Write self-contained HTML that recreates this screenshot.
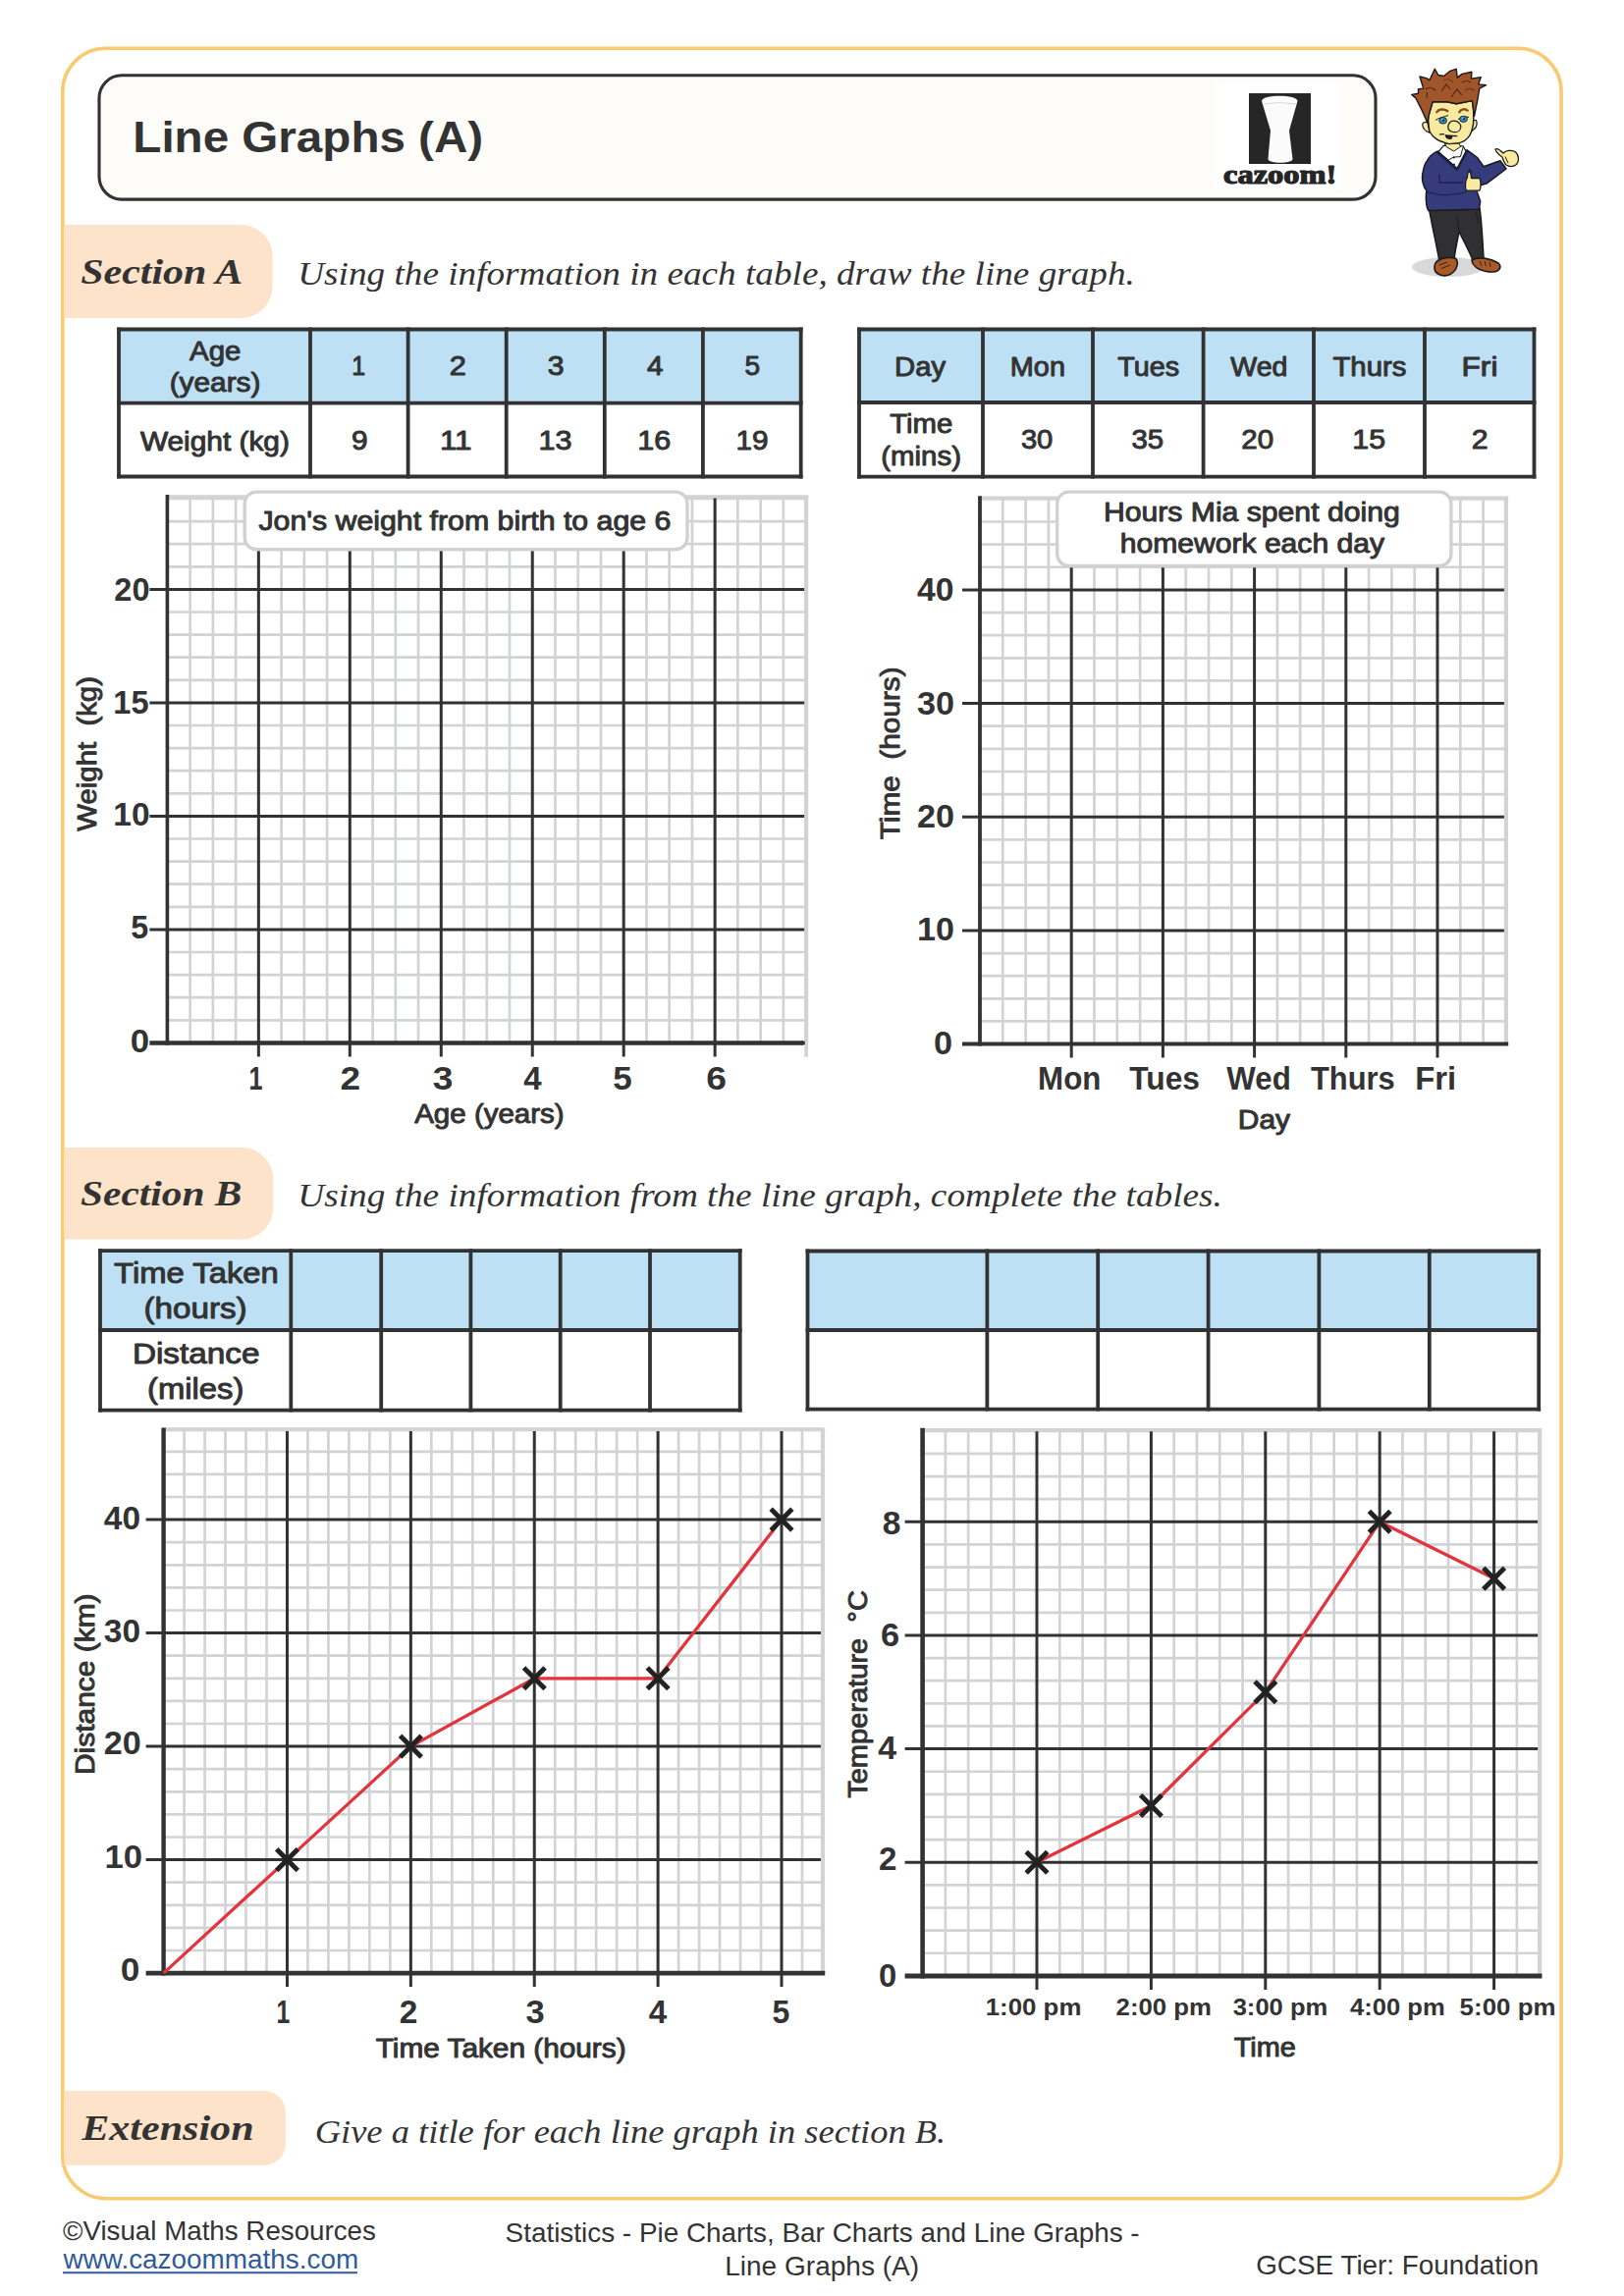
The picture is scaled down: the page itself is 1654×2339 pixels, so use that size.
<!DOCTYPE html>
<html><head><meta charset="utf-8"><title>Line Graphs (A)</title>
<style>html,body{margin:0;padding:0;background:#fff;width:1654px;height:2339px;overflow:hidden}</style>
</head><body>
<svg width="1654" height="2339" viewBox="0 0 1654 2339" style="position:absolute;left:0;top:0">
<rect x="0" y="0" width="1654" height="2339" fill="#ffffff"/>
<rect x="63.8" y="49.3" width="1526.3" height="2190.4" rx="44" ry="44" fill="none" stroke="#f8cb72" stroke-width="3.6"/>
<rect x="101" y="76.8" width="1300" height="126.3" rx="23" ry="23" fill="#fdfcf8" stroke="#323232" stroke-width="3.1"/>
<rect x="1239" y="84" width="128" height="109" fill="#ffffff"/>
<rect x="1272" y="95" width="63" height="72" fill="#262626"/>
<path d="M1285 103 C1285 96 1321.5 96 1321.5 103 L1313 133 L1316.5 162 C1316 167 1292 167 1291.5 162 L1294 133 Z" fill="#fbfbfb"/>
<path d="M1287 106 Q1303 103 1320 106" stroke="#d8d8d8" stroke-width="1" fill="none"/>
<path d="M65.6 229 L245.5 229 A32 32 0 0 1 277.5 261 L277.5 292 A32 32 0 0 1 245.5 324 L65.6 324 Z" fill="#fde3c9"/>
<path d="M65.6 1169 L246.2 1169 A32 32 0 0 1 278.2 1201 L278.2 1230.5 A32 32 0 0 1 246.2 1262.5 L65.6 1262.5 Z" fill="#fde3c9"/>
<path d="M65.6 2130.1 L269.3 2130.1 A21.5 21.5 0 0 1 290.8 2151.6 L290.8 2184.2 A21.5 21.5 0 0 1 269.3 2205.7 L65.6 2205.7 Z" fill="#fde3c9"/>
<rect x="121" y="335.5" width="694.7" height="75.1" fill="#bde0f5"/>
<rect x="121" y="410.6" width="694.7" height="74.9" fill="#ffffff"/>
<line x1="121" y1="333.6" x2="121" y2="487.4" stroke="#323232" stroke-width="3.8" stroke-linecap="butt"/>
<line x1="316" y1="333.6" x2="316" y2="487.4" stroke="#323232" stroke-width="3.8" stroke-linecap="butt"/>
<line x1="415.6" y1="333.6" x2="415.6" y2="487.4" stroke="#323232" stroke-width="3.8" stroke-linecap="butt"/>
<line x1="515.7" y1="333.6" x2="515.7" y2="487.4" stroke="#323232" stroke-width="3.8" stroke-linecap="butt"/>
<line x1="615.8" y1="333.6" x2="615.8" y2="487.4" stroke="#323232" stroke-width="3.8" stroke-linecap="butt"/>
<line x1="715.9" y1="333.6" x2="715.9" y2="487.4" stroke="#323232" stroke-width="3.8" stroke-linecap="butt"/>
<line x1="815.7" y1="333.6" x2="815.7" y2="487.4" stroke="#323232" stroke-width="3.8" stroke-linecap="butt"/>
<line x1="119.1" y1="335.5" x2="817.6" y2="335.5" stroke="#323232" stroke-width="3.8" stroke-linecap="butt"/>
<line x1="119.1" y1="410.6" x2="817.6" y2="410.6" stroke="#323232" stroke-width="3.8" stroke-linecap="butt"/>
<line x1="119.1" y1="485.5" x2="817.6" y2="485.5" stroke="#323232" stroke-width="3.8" stroke-linecap="butt"/>
<rect x="875" y="335.5" width="687.5" height="74.5" fill="#bde0f5"/>
<rect x="875" y="410" width="687.5" height="75.7" fill="#ffffff"/>
<line x1="875" y1="333.6" x2="875" y2="487.6" stroke="#323232" stroke-width="3.8" stroke-linecap="butt"/>
<line x1="1001" y1="333.6" x2="1001" y2="487.6" stroke="#323232" stroke-width="3.8" stroke-linecap="butt"/>
<line x1="1113" y1="333.6" x2="1113" y2="487.6" stroke="#323232" stroke-width="3.8" stroke-linecap="butt"/>
<line x1="1225.6" y1="333.6" x2="1225.6" y2="487.6" stroke="#323232" stroke-width="3.8" stroke-linecap="butt"/>
<line x1="1338" y1="333.6" x2="1338" y2="487.6" stroke="#323232" stroke-width="3.8" stroke-linecap="butt"/>
<line x1="1451" y1="333.6" x2="1451" y2="487.6" stroke="#323232" stroke-width="3.8" stroke-linecap="butt"/>
<line x1="1562.5" y1="333.6" x2="1562.5" y2="487.6" stroke="#323232" stroke-width="3.8" stroke-linecap="butt"/>
<line x1="873.1" y1="335.5" x2="1564.4" y2="335.5" stroke="#323232" stroke-width="3.8" stroke-linecap="butt"/>
<line x1="873.1" y1="410" x2="1564.4" y2="410" stroke="#323232" stroke-width="3.8" stroke-linecap="butt"/>
<line x1="873.1" y1="485.7" x2="1564.4" y2="485.7" stroke="#323232" stroke-width="3.8" stroke-linecap="butt"/>
<rect x="102" y="1274.2" width="651.7" height="80.8" fill="#bde0f5"/>
<rect x="102" y="1355" width="651.7" height="81.7" fill="#ffffff"/>
<line x1="102" y1="1272.3" x2="102" y2="1438.6" stroke="#323232" stroke-width="3.8" stroke-linecap="butt"/>
<line x1="296.3" y1="1272.3" x2="296.3" y2="1438.6" stroke="#323232" stroke-width="3.8" stroke-linecap="butt"/>
<line x1="388.2" y1="1272.3" x2="388.2" y2="1438.6" stroke="#323232" stroke-width="3.8" stroke-linecap="butt"/>
<line x1="479.4" y1="1272.3" x2="479.4" y2="1438.6" stroke="#323232" stroke-width="3.8" stroke-linecap="butt"/>
<line x1="570.7" y1="1272.3" x2="570.7" y2="1438.6" stroke="#323232" stroke-width="3.8" stroke-linecap="butt"/>
<line x1="662" y1="1272.3" x2="662" y2="1438.6" stroke="#323232" stroke-width="3.8" stroke-linecap="butt"/>
<line x1="753.7" y1="1272.3" x2="753.7" y2="1438.6" stroke="#323232" stroke-width="3.8" stroke-linecap="butt"/>
<line x1="100.1" y1="1274.2" x2="755.6" y2="1274.2" stroke="#323232" stroke-width="3.8" stroke-linecap="butt"/>
<line x1="100.1" y1="1355" x2="755.6" y2="1355" stroke="#323232" stroke-width="3.8" stroke-linecap="butt"/>
<line x1="100.1" y1="1436.7" x2="755.6" y2="1436.7" stroke="#323232" stroke-width="3.8" stroke-linecap="butt"/>
<rect x="822.5" y="1274.5" width="744.7" height="80.5" fill="#bde0f5"/>
<rect x="822.5" y="1355" width="744.7" height="80.7" fill="#ffffff"/>
<line x1="822.5" y1="1272.6" x2="822.5" y2="1437.6" stroke="#323232" stroke-width="3.8" stroke-linecap="butt"/>
<line x1="1005.4" y1="1272.6" x2="1005.4" y2="1437.6" stroke="#323232" stroke-width="3.8" stroke-linecap="butt"/>
<line x1="1118.2" y1="1272.6" x2="1118.2" y2="1437.6" stroke="#323232" stroke-width="3.8" stroke-linecap="butt"/>
<line x1="1230.6" y1="1272.6" x2="1230.6" y2="1437.6" stroke="#323232" stroke-width="3.8" stroke-linecap="butt"/>
<line x1="1343.4" y1="1272.6" x2="1343.4" y2="1437.6" stroke="#323232" stroke-width="3.8" stroke-linecap="butt"/>
<line x1="1455.8" y1="1272.6" x2="1455.8" y2="1437.6" stroke="#323232" stroke-width="3.8" stroke-linecap="butt"/>
<line x1="1567.2" y1="1272.6" x2="1567.2" y2="1437.6" stroke="#323232" stroke-width="3.8" stroke-linecap="butt"/>
<line x1="820.6" y1="1274.5" x2="1569.1" y2="1274.5" stroke="#323232" stroke-width="3.8" stroke-linecap="butt"/>
<line x1="820.6" y1="1355" x2="1569.1" y2="1355" stroke="#323232" stroke-width="3.8" stroke-linecap="butt"/>
<line x1="820.6" y1="1435.7" x2="1569.1" y2="1435.7" stroke="#323232" stroke-width="3.8" stroke-linecap="butt"/>
<line x1="193.64" y1="506" x2="193.64" y2="1062.4" stroke="#d2d3d5" stroke-width="2.7" stroke-linecap="butt"/>
<line x1="216.88" y1="506" x2="216.88" y2="1062.4" stroke="#d2d3d5" stroke-width="2.7" stroke-linecap="butt"/>
<line x1="240.12" y1="506" x2="240.12" y2="1062.4" stroke="#d2d3d5" stroke-width="2.7" stroke-linecap="butt"/>
<line x1="286.6" y1="506" x2="286.6" y2="1062.4" stroke="#d2d3d5" stroke-width="2.7" stroke-linecap="butt"/>
<line x1="309.84" y1="506" x2="309.84" y2="1062.4" stroke="#d2d3d5" stroke-width="2.7" stroke-linecap="butt"/>
<line x1="333.08" y1="506" x2="333.08" y2="1062.4" stroke="#d2d3d5" stroke-width="2.7" stroke-linecap="butt"/>
<line x1="379.56" y1="506" x2="379.56" y2="1062.4" stroke="#d2d3d5" stroke-width="2.7" stroke-linecap="butt"/>
<line x1="402.8" y1="506" x2="402.8" y2="1062.4" stroke="#d2d3d5" stroke-width="2.7" stroke-linecap="butt"/>
<line x1="426.04" y1="506" x2="426.04" y2="1062.4" stroke="#d2d3d5" stroke-width="2.7" stroke-linecap="butt"/>
<line x1="472.52" y1="506" x2="472.52" y2="1062.4" stroke="#d2d3d5" stroke-width="2.7" stroke-linecap="butt"/>
<line x1="495.76" y1="506" x2="495.76" y2="1062.4" stroke="#d2d3d5" stroke-width="2.7" stroke-linecap="butt"/>
<line x1="519" y1="506" x2="519" y2="1062.4" stroke="#d2d3d5" stroke-width="2.7" stroke-linecap="butt"/>
<line x1="565.48" y1="506" x2="565.48" y2="1062.4" stroke="#d2d3d5" stroke-width="2.7" stroke-linecap="butt"/>
<line x1="588.72" y1="506" x2="588.72" y2="1062.4" stroke="#d2d3d5" stroke-width="2.7" stroke-linecap="butt"/>
<line x1="611.96" y1="506" x2="611.96" y2="1062.4" stroke="#d2d3d5" stroke-width="2.7" stroke-linecap="butt"/>
<line x1="658.44" y1="506" x2="658.44" y2="1062.4" stroke="#d2d3d5" stroke-width="2.7" stroke-linecap="butt"/>
<line x1="681.68" y1="506" x2="681.68" y2="1062.4" stroke="#d2d3d5" stroke-width="2.7" stroke-linecap="butt"/>
<line x1="704.92" y1="506" x2="704.92" y2="1062.4" stroke="#d2d3d5" stroke-width="2.7" stroke-linecap="butt"/>
<line x1="751.4" y1="506" x2="751.4" y2="1062.4" stroke="#d2d3d5" stroke-width="2.7" stroke-linecap="butt"/>
<line x1="774.64" y1="506" x2="774.64" y2="1062.4" stroke="#d2d3d5" stroke-width="2.7" stroke-linecap="butt"/>
<line x1="797.88" y1="506" x2="797.88" y2="1062.4" stroke="#d2d3d5" stroke-width="2.7" stroke-linecap="butt"/>
<line x1="170.4" y1="1039.3" x2="821.12" y2="1039.3" stroke="#d2d3d5" stroke-width="2.7" stroke-linecap="butt"/>
<line x1="170.4" y1="1016.2" x2="821.12" y2="1016.2" stroke="#d2d3d5" stroke-width="2.7" stroke-linecap="butt"/>
<line x1="170.4" y1="993.1" x2="821.12" y2="993.1" stroke="#d2d3d5" stroke-width="2.7" stroke-linecap="butt"/>
<line x1="170.4" y1="970" x2="821.12" y2="970" stroke="#d2d3d5" stroke-width="2.7" stroke-linecap="butt"/>
<line x1="170.4" y1="923.8" x2="821.12" y2="923.8" stroke="#d2d3d5" stroke-width="2.7" stroke-linecap="butt"/>
<line x1="170.4" y1="900.7" x2="821.12" y2="900.7" stroke="#d2d3d5" stroke-width="2.7" stroke-linecap="butt"/>
<line x1="170.4" y1="877.6" x2="821.12" y2="877.6" stroke="#d2d3d5" stroke-width="2.7" stroke-linecap="butt"/>
<line x1="170.4" y1="854.5" x2="821.12" y2="854.5" stroke="#d2d3d5" stroke-width="2.7" stroke-linecap="butt"/>
<line x1="170.4" y1="808.3" x2="821.12" y2="808.3" stroke="#d2d3d5" stroke-width="2.7" stroke-linecap="butt"/>
<line x1="170.4" y1="785.2" x2="821.12" y2="785.2" stroke="#d2d3d5" stroke-width="2.7" stroke-linecap="butt"/>
<line x1="170.4" y1="762.1" x2="821.12" y2="762.1" stroke="#d2d3d5" stroke-width="2.7" stroke-linecap="butt"/>
<line x1="170.4" y1="739" x2="821.12" y2="739" stroke="#d2d3d5" stroke-width="2.7" stroke-linecap="butt"/>
<line x1="170.4" y1="692.8" x2="821.12" y2="692.8" stroke="#d2d3d5" stroke-width="2.7" stroke-linecap="butt"/>
<line x1="170.4" y1="669.7" x2="821.12" y2="669.7" stroke="#d2d3d5" stroke-width="2.7" stroke-linecap="butt"/>
<line x1="170.4" y1="646.6" x2="821.12" y2="646.6" stroke="#d2d3d5" stroke-width="2.7" stroke-linecap="butt"/>
<line x1="170.4" y1="623.5" x2="821.12" y2="623.5" stroke="#d2d3d5" stroke-width="2.7" stroke-linecap="butt"/>
<line x1="170.4" y1="577.3" x2="821.12" y2="577.3" stroke="#d2d3d5" stroke-width="2.7" stroke-linecap="butt"/>
<line x1="170.4" y1="554.2" x2="821.12" y2="554.2" stroke="#d2d3d5" stroke-width="2.7" stroke-linecap="butt"/>
<line x1="170.4" y1="531.1" x2="821.12" y2="531.1" stroke="#d2d3d5" stroke-width="2.7" stroke-linecap="butt"/>
<line x1="170.4" y1="508" x2="821.12" y2="508" stroke="#d2d3d5" stroke-width="2.7" stroke-linecap="butt"/>
<line x1="170.4" y1="506" x2="823.42" y2="506" stroke="#d2d3d5" stroke-width="3.6" stroke-linecap="butt"/>
<line x1="821.12" y1="506" x2="821.12" y2="1062.4" stroke="#d2d3d5" stroke-width="4.2" stroke-linecap="butt"/>
<line x1="152.4" y1="946.9" x2="819.12" y2="946.9" stroke="#323232" stroke-width="3" stroke-linecap="butt"/>
<line x1="152.4" y1="831.4" x2="819.12" y2="831.4" stroke="#323232" stroke-width="3" stroke-linecap="butt"/>
<line x1="152.4" y1="715.9" x2="819.12" y2="715.9" stroke="#323232" stroke-width="3" stroke-linecap="butt"/>
<line x1="152.4" y1="600.4" x2="819.12" y2="600.4" stroke="#323232" stroke-width="3" stroke-linecap="butt"/>
<line x1="263.36" y1="507.5" x2="263.36" y2="1076.4" stroke="#323232" stroke-width="3" stroke-linecap="butt"/>
<line x1="356.32" y1="507.5" x2="356.32" y2="1076.4" stroke="#323232" stroke-width="3" stroke-linecap="butt"/>
<line x1="449.28" y1="507.5" x2="449.28" y2="1076.4" stroke="#323232" stroke-width="3" stroke-linecap="butt"/>
<line x1="542.24" y1="507.5" x2="542.24" y2="1076.4" stroke="#323232" stroke-width="3" stroke-linecap="butt"/>
<line x1="635.2" y1="507.5" x2="635.2" y2="1076.4" stroke="#323232" stroke-width="3" stroke-linecap="butt"/>
<line x1="728.16" y1="507.5" x2="728.16" y2="1076.4" stroke="#323232" stroke-width="3" stroke-linecap="butt"/>
<line x1="821.12" y1="1062.4" x2="821.12" y2="1076.7" stroke="#d2d3d5" stroke-width="3.7" stroke-linecap="butt"/>
<line x1="170.4" y1="504" x2="170.4" y2="1064.65" stroke="#323232" stroke-width="3.6" stroke-linecap="butt"/>
<line x1="152.4" y1="1062.4" x2="817.75" y2="1062.4" stroke="#323232" stroke-width="4.5" stroke-linecap="butt"/>
<circle cx="817.75" cy="1062.4" r="2.25" fill="#323232"/>
<line x1="1021.3" y1="507.3" x2="1021.3" y2="1063.6" stroke="#d2d3d5" stroke-width="2.7" stroke-linecap="butt"/>
<line x1="1044.6" y1="507.3" x2="1044.6" y2="1063.6" stroke="#d2d3d5" stroke-width="2.7" stroke-linecap="butt"/>
<line x1="1067.9" y1="507.3" x2="1067.9" y2="1063.6" stroke="#d2d3d5" stroke-width="2.7" stroke-linecap="butt"/>
<line x1="1114.5" y1="507.3" x2="1114.5" y2="1063.6" stroke="#d2d3d5" stroke-width="2.7" stroke-linecap="butt"/>
<line x1="1137.8" y1="507.3" x2="1137.8" y2="1063.6" stroke="#d2d3d5" stroke-width="2.7" stroke-linecap="butt"/>
<line x1="1161.1" y1="507.3" x2="1161.1" y2="1063.6" stroke="#d2d3d5" stroke-width="2.7" stroke-linecap="butt"/>
<line x1="1207.7" y1="507.3" x2="1207.7" y2="1063.6" stroke="#d2d3d5" stroke-width="2.7" stroke-linecap="butt"/>
<line x1="1231" y1="507.3" x2="1231" y2="1063.6" stroke="#d2d3d5" stroke-width="2.7" stroke-linecap="butt"/>
<line x1="1254.3" y1="507.3" x2="1254.3" y2="1063.6" stroke="#d2d3d5" stroke-width="2.7" stroke-linecap="butt"/>
<line x1="1300.9" y1="507.3" x2="1300.9" y2="1063.6" stroke="#d2d3d5" stroke-width="2.7" stroke-linecap="butt"/>
<line x1="1324.2" y1="507.3" x2="1324.2" y2="1063.6" stroke="#d2d3d5" stroke-width="2.7" stroke-linecap="butt"/>
<line x1="1347.5" y1="507.3" x2="1347.5" y2="1063.6" stroke="#d2d3d5" stroke-width="2.7" stroke-linecap="butt"/>
<line x1="1394.1" y1="507.3" x2="1394.1" y2="1063.6" stroke="#d2d3d5" stroke-width="2.7" stroke-linecap="butt"/>
<line x1="1417.4" y1="507.3" x2="1417.4" y2="1063.6" stroke="#d2d3d5" stroke-width="2.7" stroke-linecap="butt"/>
<line x1="1440.7" y1="507.3" x2="1440.7" y2="1063.6" stroke="#d2d3d5" stroke-width="2.7" stroke-linecap="butt"/>
<line x1="1487.3" y1="507.3" x2="1487.3" y2="1063.6" stroke="#d2d3d5" stroke-width="2.7" stroke-linecap="butt"/>
<line x1="1510.6" y1="507.3" x2="1510.6" y2="1063.6" stroke="#d2d3d5" stroke-width="2.7" stroke-linecap="butt"/>
<line x1="998" y1="1040.46" x2="1533.9" y2="1040.46" stroke="#d2d3d5" stroke-width="2.7" stroke-linecap="butt"/>
<line x1="998" y1="1017.33" x2="1533.9" y2="1017.33" stroke="#d2d3d5" stroke-width="2.7" stroke-linecap="butt"/>
<line x1="998" y1="994.19" x2="1533.9" y2="994.19" stroke="#d2d3d5" stroke-width="2.7" stroke-linecap="butt"/>
<line x1="998" y1="971.06" x2="1533.9" y2="971.06" stroke="#d2d3d5" stroke-width="2.7" stroke-linecap="butt"/>
<line x1="998" y1="924.79" x2="1533.9" y2="924.79" stroke="#d2d3d5" stroke-width="2.7" stroke-linecap="butt"/>
<line x1="998" y1="901.65" x2="1533.9" y2="901.65" stroke="#d2d3d5" stroke-width="2.7" stroke-linecap="butt"/>
<line x1="998" y1="878.52" x2="1533.9" y2="878.52" stroke="#d2d3d5" stroke-width="2.7" stroke-linecap="butt"/>
<line x1="998" y1="855.38" x2="1533.9" y2="855.38" stroke="#d2d3d5" stroke-width="2.7" stroke-linecap="butt"/>
<line x1="998" y1="809.11" x2="1533.9" y2="809.11" stroke="#d2d3d5" stroke-width="2.7" stroke-linecap="butt"/>
<line x1="998" y1="785.98" x2="1533.9" y2="785.98" stroke="#d2d3d5" stroke-width="2.7" stroke-linecap="butt"/>
<line x1="998" y1="762.84" x2="1533.9" y2="762.84" stroke="#d2d3d5" stroke-width="2.7" stroke-linecap="butt"/>
<line x1="998" y1="739.71" x2="1533.9" y2="739.71" stroke="#d2d3d5" stroke-width="2.7" stroke-linecap="butt"/>
<line x1="998" y1="693.44" x2="1533.9" y2="693.44" stroke="#d2d3d5" stroke-width="2.7" stroke-linecap="butt"/>
<line x1="998" y1="670.3" x2="1533.9" y2="670.3" stroke="#d2d3d5" stroke-width="2.7" stroke-linecap="butt"/>
<line x1="998" y1="647.17" x2="1533.9" y2="647.17" stroke="#d2d3d5" stroke-width="2.7" stroke-linecap="butt"/>
<line x1="998" y1="624.03" x2="1533.9" y2="624.03" stroke="#d2d3d5" stroke-width="2.7" stroke-linecap="butt"/>
<line x1="998" y1="577.76" x2="1533.9" y2="577.76" stroke="#d2d3d5" stroke-width="2.7" stroke-linecap="butt"/>
<line x1="998" y1="554.63" x2="1533.9" y2="554.63" stroke="#d2d3d5" stroke-width="2.7" stroke-linecap="butt"/>
<line x1="998" y1="531.49" x2="1533.9" y2="531.49" stroke="#d2d3d5" stroke-width="2.7" stroke-linecap="butt"/>
<line x1="998" y1="508.36" x2="1533.9" y2="508.36" stroke="#d2d3d5" stroke-width="2.7" stroke-linecap="butt"/>
<line x1="998" y1="507.3" x2="1536.2" y2="507.3" stroke="#d2d3d5" stroke-width="3.6" stroke-linecap="butt"/>
<line x1="1533.9" y1="507.3" x2="1533.9" y2="1063.6" stroke="#d2d3d5" stroke-width="4.2" stroke-linecap="butt"/>
<line x1="980" y1="947.92" x2="1531.9" y2="947.92" stroke="#323232" stroke-width="3" stroke-linecap="butt"/>
<line x1="980" y1="832.25" x2="1531.9" y2="832.25" stroke="#323232" stroke-width="3" stroke-linecap="butt"/>
<line x1="980" y1="716.57" x2="1531.9" y2="716.57" stroke="#323232" stroke-width="3" stroke-linecap="butt"/>
<line x1="980" y1="600.9" x2="1531.9" y2="600.9" stroke="#323232" stroke-width="3" stroke-linecap="butt"/>
<line x1="1091.2" y1="508.8" x2="1091.2" y2="1077.6" stroke="#323232" stroke-width="3" stroke-linecap="butt"/>
<line x1="1184.4" y1="508.8" x2="1184.4" y2="1077.6" stroke="#323232" stroke-width="3" stroke-linecap="butt"/>
<line x1="1277.6" y1="508.8" x2="1277.6" y2="1077.6" stroke="#323232" stroke-width="3" stroke-linecap="butt"/>
<line x1="1370.8" y1="508.8" x2="1370.8" y2="1077.6" stroke="#323232" stroke-width="3" stroke-linecap="butt"/>
<line x1="1464" y1="508.8" x2="1464" y2="1077.6" stroke="#323232" stroke-width="3" stroke-linecap="butt"/>
<line x1="998" y1="505.3" x2="998" y2="1065.6" stroke="#323232" stroke-width="3.8" stroke-linecap="butt"/>
<line x1="980" y1="1063.6" x2="1536.2" y2="1063.6" stroke="#323232" stroke-width="4" stroke-linecap="butt"/>
<line x1="187.58" y1="1456.4" x2="187.58" y2="2010.1" stroke="#d2d3d5" stroke-width="2.7" stroke-linecap="butt"/>
<line x1="208.56" y1="1456.4" x2="208.56" y2="2010.1" stroke="#d2d3d5" stroke-width="2.7" stroke-linecap="butt"/>
<line x1="229.54" y1="1456.4" x2="229.54" y2="2010.1" stroke="#d2d3d5" stroke-width="2.7" stroke-linecap="butt"/>
<line x1="250.52" y1="1456.4" x2="250.52" y2="2010.1" stroke="#d2d3d5" stroke-width="2.7" stroke-linecap="butt"/>
<line x1="271.5" y1="1456.4" x2="271.5" y2="2010.1" stroke="#d2d3d5" stroke-width="2.7" stroke-linecap="butt"/>
<line x1="313.46" y1="1456.4" x2="313.46" y2="2010.1" stroke="#d2d3d5" stroke-width="2.7" stroke-linecap="butt"/>
<line x1="334.44" y1="1456.4" x2="334.44" y2="2010.1" stroke="#d2d3d5" stroke-width="2.7" stroke-linecap="butt"/>
<line x1="355.42" y1="1456.4" x2="355.42" y2="2010.1" stroke="#d2d3d5" stroke-width="2.7" stroke-linecap="butt"/>
<line x1="376.4" y1="1456.4" x2="376.4" y2="2010.1" stroke="#d2d3d5" stroke-width="2.7" stroke-linecap="butt"/>
<line x1="397.38" y1="1456.4" x2="397.38" y2="2010.1" stroke="#d2d3d5" stroke-width="2.7" stroke-linecap="butt"/>
<line x1="439.34" y1="1456.4" x2="439.34" y2="2010.1" stroke="#d2d3d5" stroke-width="2.7" stroke-linecap="butt"/>
<line x1="460.32" y1="1456.4" x2="460.32" y2="2010.1" stroke="#d2d3d5" stroke-width="2.7" stroke-linecap="butt"/>
<line x1="481.3" y1="1456.4" x2="481.3" y2="2010.1" stroke="#d2d3d5" stroke-width="2.7" stroke-linecap="butt"/>
<line x1="502.28" y1="1456.4" x2="502.28" y2="2010.1" stroke="#d2d3d5" stroke-width="2.7" stroke-linecap="butt"/>
<line x1="523.26" y1="1456.4" x2="523.26" y2="2010.1" stroke="#d2d3d5" stroke-width="2.7" stroke-linecap="butt"/>
<line x1="565.22" y1="1456.4" x2="565.22" y2="2010.1" stroke="#d2d3d5" stroke-width="2.7" stroke-linecap="butt"/>
<line x1="586.2" y1="1456.4" x2="586.2" y2="2010.1" stroke="#d2d3d5" stroke-width="2.7" stroke-linecap="butt"/>
<line x1="607.18" y1="1456.4" x2="607.18" y2="2010.1" stroke="#d2d3d5" stroke-width="2.7" stroke-linecap="butt"/>
<line x1="628.16" y1="1456.4" x2="628.16" y2="2010.1" stroke="#d2d3d5" stroke-width="2.7" stroke-linecap="butt"/>
<line x1="649.14" y1="1456.4" x2="649.14" y2="2010.1" stroke="#d2d3d5" stroke-width="2.7" stroke-linecap="butt"/>
<line x1="691.1" y1="1456.4" x2="691.1" y2="2010.1" stroke="#d2d3d5" stroke-width="2.7" stroke-linecap="butt"/>
<line x1="712.08" y1="1456.4" x2="712.08" y2="2010.1" stroke="#d2d3d5" stroke-width="2.7" stroke-linecap="butt"/>
<line x1="733.06" y1="1456.4" x2="733.06" y2="2010.1" stroke="#d2d3d5" stroke-width="2.7" stroke-linecap="butt"/>
<line x1="754.04" y1="1456.4" x2="754.04" y2="2010.1" stroke="#d2d3d5" stroke-width="2.7" stroke-linecap="butt"/>
<line x1="775.02" y1="1456.4" x2="775.02" y2="2010.1" stroke="#d2d3d5" stroke-width="2.7" stroke-linecap="butt"/>
<line x1="816.98" y1="1456.4" x2="816.98" y2="2010.1" stroke="#d2d3d5" stroke-width="2.7" stroke-linecap="butt"/>
<line x1="166.6" y1="1987" x2="837.96" y2="1987" stroke="#d2d3d5" stroke-width="2.7" stroke-linecap="butt"/>
<line x1="166.6" y1="1963.9" x2="837.96" y2="1963.9" stroke="#d2d3d5" stroke-width="2.7" stroke-linecap="butt"/>
<line x1="166.6" y1="1940.8" x2="837.96" y2="1940.8" stroke="#d2d3d5" stroke-width="2.7" stroke-linecap="butt"/>
<line x1="166.6" y1="1917.7" x2="837.96" y2="1917.7" stroke="#d2d3d5" stroke-width="2.7" stroke-linecap="butt"/>
<line x1="166.6" y1="1871.5" x2="837.96" y2="1871.5" stroke="#d2d3d5" stroke-width="2.7" stroke-linecap="butt"/>
<line x1="166.6" y1="1848.4" x2="837.96" y2="1848.4" stroke="#d2d3d5" stroke-width="2.7" stroke-linecap="butt"/>
<line x1="166.6" y1="1825.3" x2="837.96" y2="1825.3" stroke="#d2d3d5" stroke-width="2.7" stroke-linecap="butt"/>
<line x1="166.6" y1="1802.2" x2="837.96" y2="1802.2" stroke="#d2d3d5" stroke-width="2.7" stroke-linecap="butt"/>
<line x1="166.6" y1="1756" x2="837.96" y2="1756" stroke="#d2d3d5" stroke-width="2.7" stroke-linecap="butt"/>
<line x1="166.6" y1="1732.9" x2="837.96" y2="1732.9" stroke="#d2d3d5" stroke-width="2.7" stroke-linecap="butt"/>
<line x1="166.6" y1="1709.8" x2="837.96" y2="1709.8" stroke="#d2d3d5" stroke-width="2.7" stroke-linecap="butt"/>
<line x1="166.6" y1="1686.7" x2="837.96" y2="1686.7" stroke="#d2d3d5" stroke-width="2.7" stroke-linecap="butt"/>
<line x1="166.6" y1="1640.5" x2="837.96" y2="1640.5" stroke="#d2d3d5" stroke-width="2.7" stroke-linecap="butt"/>
<line x1="166.6" y1="1617.4" x2="837.96" y2="1617.4" stroke="#d2d3d5" stroke-width="2.7" stroke-linecap="butt"/>
<line x1="166.6" y1="1594.3" x2="837.96" y2="1594.3" stroke="#d2d3d5" stroke-width="2.7" stroke-linecap="butt"/>
<line x1="166.6" y1="1571.2" x2="837.96" y2="1571.2" stroke="#d2d3d5" stroke-width="2.7" stroke-linecap="butt"/>
<line x1="166.6" y1="1525" x2="837.96" y2="1525" stroke="#d2d3d5" stroke-width="2.7" stroke-linecap="butt"/>
<line x1="166.6" y1="1501.9" x2="837.96" y2="1501.9" stroke="#d2d3d5" stroke-width="2.7" stroke-linecap="butt"/>
<line x1="166.6" y1="1478.8" x2="837.96" y2="1478.8" stroke="#d2d3d5" stroke-width="2.7" stroke-linecap="butt"/>
<line x1="166.6" y1="1455.7" x2="837.96" y2="1455.7" stroke="#d2d3d5" stroke-width="2.7" stroke-linecap="butt"/>
<line x1="166.6" y1="1456.4" x2="840.26" y2="1456.4" stroke="#d2d3d5" stroke-width="3.6" stroke-linecap="butt"/>
<line x1="837.96" y1="1456.4" x2="837.96" y2="2010.1" stroke="#d2d3d5" stroke-width="4.2" stroke-linecap="butt"/>
<line x1="148.6" y1="1894.6" x2="835.96" y2="1894.6" stroke="#323232" stroke-width="3" stroke-linecap="butt"/>
<line x1="148.6" y1="1779.1" x2="835.96" y2="1779.1" stroke="#323232" stroke-width="3" stroke-linecap="butt"/>
<line x1="148.6" y1="1663.6" x2="835.96" y2="1663.6" stroke="#323232" stroke-width="3" stroke-linecap="butt"/>
<line x1="148.6" y1="1548.1" x2="835.96" y2="1548.1" stroke="#323232" stroke-width="3" stroke-linecap="butt"/>
<line x1="292.48" y1="1457.9" x2="292.48" y2="2024.1" stroke="#323232" stroke-width="3" stroke-linecap="butt"/>
<line x1="418.36" y1="1457.9" x2="418.36" y2="2024.1" stroke="#323232" stroke-width="3" stroke-linecap="butt"/>
<line x1="544.24" y1="1457.9" x2="544.24" y2="2024.1" stroke="#323232" stroke-width="3" stroke-linecap="butt"/>
<line x1="670.12" y1="1457.9" x2="670.12" y2="2024.1" stroke="#323232" stroke-width="3" stroke-linecap="butt"/>
<line x1="796" y1="1457.9" x2="796" y2="2024.1" stroke="#323232" stroke-width="3" stroke-linecap="butt"/>
<line x1="166.6" y1="1454.4" x2="166.6" y2="2012.4" stroke="#323232" stroke-width="4.4" stroke-linecap="butt"/>
<line x1="148.6" y1="2010.1" x2="840.26" y2="2010.1" stroke="#323232" stroke-width="4.6" stroke-linecap="butt"/>
<line x1="962.88" y1="1456.8" x2="962.88" y2="2012.9" stroke="#d2d3d5" stroke-width="2.7" stroke-linecap="butt"/>
<line x1="986.16" y1="1456.8" x2="986.16" y2="2012.9" stroke="#d2d3d5" stroke-width="2.7" stroke-linecap="butt"/>
<line x1="1009.44" y1="1456.8" x2="1009.44" y2="2012.9" stroke="#d2d3d5" stroke-width="2.7" stroke-linecap="butt"/>
<line x1="1032.72" y1="1456.8" x2="1032.72" y2="2012.9" stroke="#d2d3d5" stroke-width="2.7" stroke-linecap="butt"/>
<line x1="1079.28" y1="1456.8" x2="1079.28" y2="2012.9" stroke="#d2d3d5" stroke-width="2.7" stroke-linecap="butt"/>
<line x1="1102.56" y1="1456.8" x2="1102.56" y2="2012.9" stroke="#d2d3d5" stroke-width="2.7" stroke-linecap="butt"/>
<line x1="1125.84" y1="1456.8" x2="1125.84" y2="2012.9" stroke="#d2d3d5" stroke-width="2.7" stroke-linecap="butt"/>
<line x1="1149.12" y1="1456.8" x2="1149.12" y2="2012.9" stroke="#d2d3d5" stroke-width="2.7" stroke-linecap="butt"/>
<line x1="1195.68" y1="1456.8" x2="1195.68" y2="2012.9" stroke="#d2d3d5" stroke-width="2.7" stroke-linecap="butt"/>
<line x1="1218.96" y1="1456.8" x2="1218.96" y2="2012.9" stroke="#d2d3d5" stroke-width="2.7" stroke-linecap="butt"/>
<line x1="1242.24" y1="1456.8" x2="1242.24" y2="2012.9" stroke="#d2d3d5" stroke-width="2.7" stroke-linecap="butt"/>
<line x1="1265.52" y1="1456.8" x2="1265.52" y2="2012.9" stroke="#d2d3d5" stroke-width="2.7" stroke-linecap="butt"/>
<line x1="1312.08" y1="1456.8" x2="1312.08" y2="2012.9" stroke="#d2d3d5" stroke-width="2.7" stroke-linecap="butt"/>
<line x1="1335.36" y1="1456.8" x2="1335.36" y2="2012.9" stroke="#d2d3d5" stroke-width="2.7" stroke-linecap="butt"/>
<line x1="1358.64" y1="1456.8" x2="1358.64" y2="2012.9" stroke="#d2d3d5" stroke-width="2.7" stroke-linecap="butt"/>
<line x1="1381.92" y1="1456.8" x2="1381.92" y2="2012.9" stroke="#d2d3d5" stroke-width="2.7" stroke-linecap="butt"/>
<line x1="1428.48" y1="1456.8" x2="1428.48" y2="2012.9" stroke="#d2d3d5" stroke-width="2.7" stroke-linecap="butt"/>
<line x1="1451.76" y1="1456.8" x2="1451.76" y2="2012.9" stroke="#d2d3d5" stroke-width="2.7" stroke-linecap="butt"/>
<line x1="1475.04" y1="1456.8" x2="1475.04" y2="2012.9" stroke="#d2d3d5" stroke-width="2.7" stroke-linecap="butt"/>
<line x1="1498.32" y1="1456.8" x2="1498.32" y2="2012.9" stroke="#d2d3d5" stroke-width="2.7" stroke-linecap="butt"/>
<line x1="1544.88" y1="1456.8" x2="1544.88" y2="2012.9" stroke="#d2d3d5" stroke-width="2.7" stroke-linecap="butt"/>
<line x1="939.6" y1="1989.77" x2="1568.16" y2="1989.77" stroke="#d2d3d5" stroke-width="2.7" stroke-linecap="butt"/>
<line x1="939.6" y1="1966.64" x2="1568.16" y2="1966.64" stroke="#d2d3d5" stroke-width="2.7" stroke-linecap="butt"/>
<line x1="939.6" y1="1943.51" x2="1568.16" y2="1943.51" stroke="#d2d3d5" stroke-width="2.7" stroke-linecap="butt"/>
<line x1="939.6" y1="1920.38" x2="1568.16" y2="1920.38" stroke="#d2d3d5" stroke-width="2.7" stroke-linecap="butt"/>
<line x1="939.6" y1="1874.12" x2="1568.16" y2="1874.12" stroke="#d2d3d5" stroke-width="2.7" stroke-linecap="butt"/>
<line x1="939.6" y1="1850.99" x2="1568.16" y2="1850.99" stroke="#d2d3d5" stroke-width="2.7" stroke-linecap="butt"/>
<line x1="939.6" y1="1827.86" x2="1568.16" y2="1827.86" stroke="#d2d3d5" stroke-width="2.7" stroke-linecap="butt"/>
<line x1="939.6" y1="1804.73" x2="1568.16" y2="1804.73" stroke="#d2d3d5" stroke-width="2.7" stroke-linecap="butt"/>
<line x1="939.6" y1="1758.47" x2="1568.16" y2="1758.47" stroke="#d2d3d5" stroke-width="2.7" stroke-linecap="butt"/>
<line x1="939.6" y1="1735.34" x2="1568.16" y2="1735.34" stroke="#d2d3d5" stroke-width="2.7" stroke-linecap="butt"/>
<line x1="939.6" y1="1712.21" x2="1568.16" y2="1712.21" stroke="#d2d3d5" stroke-width="2.7" stroke-linecap="butt"/>
<line x1="939.6" y1="1689.08" x2="1568.16" y2="1689.08" stroke="#d2d3d5" stroke-width="2.7" stroke-linecap="butt"/>
<line x1="939.6" y1="1642.82" x2="1568.16" y2="1642.82" stroke="#d2d3d5" stroke-width="2.7" stroke-linecap="butt"/>
<line x1="939.6" y1="1619.69" x2="1568.16" y2="1619.69" stroke="#d2d3d5" stroke-width="2.7" stroke-linecap="butt"/>
<line x1="939.6" y1="1596.56" x2="1568.16" y2="1596.56" stroke="#d2d3d5" stroke-width="2.7" stroke-linecap="butt"/>
<line x1="939.6" y1="1573.43" x2="1568.16" y2="1573.43" stroke="#d2d3d5" stroke-width="2.7" stroke-linecap="butt"/>
<line x1="939.6" y1="1527.17" x2="1568.16" y2="1527.17" stroke="#d2d3d5" stroke-width="2.7" stroke-linecap="butt"/>
<line x1="939.6" y1="1504.04" x2="1568.16" y2="1504.04" stroke="#d2d3d5" stroke-width="2.7" stroke-linecap="butt"/>
<line x1="939.6" y1="1480.91" x2="1568.16" y2="1480.91" stroke="#d2d3d5" stroke-width="2.7" stroke-linecap="butt"/>
<line x1="939.6" y1="1457.78" x2="1568.16" y2="1457.78" stroke="#d2d3d5" stroke-width="2.7" stroke-linecap="butt"/>
<line x1="939.6" y1="1456.8" x2="1570.46" y2="1456.8" stroke="#d2d3d5" stroke-width="3.6" stroke-linecap="butt"/>
<line x1="1568.16" y1="1456.8" x2="1568.16" y2="2012.9" stroke="#d2d3d5" stroke-width="4.2" stroke-linecap="butt"/>
<line x1="921.6" y1="1897.25" x2="1566.16" y2="1897.25" stroke="#323232" stroke-width="3" stroke-linecap="butt"/>
<line x1="921.6" y1="1781.6" x2="1566.16" y2="1781.6" stroke="#323232" stroke-width="3" stroke-linecap="butt"/>
<line x1="921.6" y1="1665.95" x2="1566.16" y2="1665.95" stroke="#323232" stroke-width="3" stroke-linecap="butt"/>
<line x1="921.6" y1="1550.3" x2="1566.16" y2="1550.3" stroke="#323232" stroke-width="3" stroke-linecap="butt"/>
<line x1="1056" y1="1458.3" x2="1056" y2="2026.9" stroke="#323232" stroke-width="3" stroke-linecap="butt"/>
<line x1="1172.4" y1="1458.3" x2="1172.4" y2="2026.9" stroke="#323232" stroke-width="3" stroke-linecap="butt"/>
<line x1="1288.8" y1="1458.3" x2="1288.8" y2="2026.9" stroke="#323232" stroke-width="3" stroke-linecap="butt"/>
<line x1="1405.2" y1="1458.3" x2="1405.2" y2="2026.9" stroke="#323232" stroke-width="3" stroke-linecap="butt"/>
<line x1="1521.6" y1="1458.3" x2="1521.6" y2="2026.9" stroke="#323232" stroke-width="3" stroke-linecap="butt"/>
<line x1="939.6" y1="1454.8" x2="939.6" y2="2015.4" stroke="#323232" stroke-width="4.6" stroke-linecap="butt"/>
<line x1="921.6" y1="2012.9" x2="1570.46" y2="2012.9" stroke="#323232" stroke-width="5" stroke-linecap="butt"/>
<rect x="249.2" y="501.1" width="450.8" height="58.6" rx="12" ry="12" fill="#ffffff" stroke="#d0d1d3" stroke-width="3.4"/>
<rect x="1076.7" y="501.1" width="401.2" height="75.4" rx="12" ry="12" fill="#ffffff" stroke="#d0d1d3" stroke-width="3.4"/>
<polyline points="166.6,2010.1 292.5,1894.6 418.4,1779.1 544.3,1709.8 670.1,1709.8 796,1548.1" fill="none" stroke="#e2343c" stroke-width="3.3" stroke-linejoin="round"/>
<line x1="281.7" y1="1883.8" x2="303.3" y2="1905.4" stroke="#222" stroke-width="5" stroke-linecap="butt"/>
<line x1="281.7" y1="1905.4" x2="303.3" y2="1883.8" stroke="#222" stroke-width="5" stroke-linecap="butt"/>
<line x1="407.6" y1="1768.3" x2="429.2" y2="1789.9" stroke="#222" stroke-width="5" stroke-linecap="butt"/>
<line x1="407.6" y1="1789.9" x2="429.2" y2="1768.3" stroke="#222" stroke-width="5" stroke-linecap="butt"/>
<line x1="533.5" y1="1699" x2="555.1" y2="1720.6" stroke="#222" stroke-width="5" stroke-linecap="butt"/>
<line x1="533.5" y1="1720.6" x2="555.1" y2="1699" stroke="#222" stroke-width="5" stroke-linecap="butt"/>
<line x1="659.3" y1="1699" x2="680.9" y2="1720.6" stroke="#222" stroke-width="5" stroke-linecap="butt"/>
<line x1="659.3" y1="1720.6" x2="680.9" y2="1699" stroke="#222" stroke-width="5" stroke-linecap="butt"/>
<line x1="785.2" y1="1537.3" x2="806.8" y2="1558.9" stroke="#222" stroke-width="5" stroke-linecap="butt"/>
<line x1="785.2" y1="1558.9" x2="806.8" y2="1537.3" stroke="#222" stroke-width="5" stroke-linecap="butt"/>
<polyline points="1056,1897.3 1172.4,1839.5 1288.8,1723.8 1405.2,1550.3 1521.6,1608.1" fill="none" stroke="#e2343c" stroke-width="3.3" stroke-linejoin="round"/>
<line x1="1045.2" y1="1886.5" x2="1066.8" y2="1908.1" stroke="#222" stroke-width="5" stroke-linecap="butt"/>
<line x1="1045.2" y1="1908.1" x2="1066.8" y2="1886.5" stroke="#222" stroke-width="5" stroke-linecap="butt"/>
<line x1="1161.6" y1="1828.7" x2="1183.2" y2="1850.3" stroke="#222" stroke-width="5" stroke-linecap="butt"/>
<line x1="1161.6" y1="1850.3" x2="1183.2" y2="1828.7" stroke="#222" stroke-width="5" stroke-linecap="butt"/>
<line x1="1278" y1="1713" x2="1299.6" y2="1734.6" stroke="#222" stroke-width="5" stroke-linecap="butt"/>
<line x1="1278" y1="1734.6" x2="1299.6" y2="1713" stroke="#222" stroke-width="5" stroke-linecap="butt"/>
<line x1="1394.4" y1="1539.5" x2="1416" y2="1561.1" stroke="#222" stroke-width="5" stroke-linecap="butt"/>
<line x1="1394.4" y1="1561.1" x2="1416" y2="1539.5" stroke="#222" stroke-width="5" stroke-linecap="butt"/>
<line x1="1510.8" y1="1597.3" x2="1532.4" y2="1618.9" stroke="#222" stroke-width="5" stroke-linecap="butt"/>
<line x1="1510.8" y1="1618.9" x2="1532.4" y2="1597.3" stroke="#222" stroke-width="5" stroke-linecap="butt"/>
<line x1="64" y1="2315.2" x2="364" y2="2315.2" stroke="#2f5b9a" stroke-width="2" stroke-linecap="butt"/>
<text x="135.33" y="155.4" xml:space="preserve" font-family="Liberation Sans" font-size="45" font-weight="bold" font-style="normal" fill="#333333" textLength="356.85" lengthAdjust="spacingAndGlyphs">Line Graphs (A)</text>
<text x="1246" y="186.5" xml:space="preserve" font-family="Liberation Serif" font-size="27" font-weight="bold" font-style="normal" fill="#262626" stroke="#262626" stroke-width="1.2" stroke-linejoin="round" textLength="115.35" lengthAdjust="spacingAndGlyphs">cazoom!</text>
<text x="82.21" y="288.8" xml:space="preserve" font-family="Liberation Serif" font-size="35.3" font-weight="bold" font-style="italic" fill="#333333" textLength="165.07" lengthAdjust="spacingAndGlyphs">Section A</text>
<text x="82.13" y="1228" xml:space="preserve" font-family="Liberation Serif" font-size="35.3" font-weight="bold" font-style="italic" fill="#333333" textLength="164.22" lengthAdjust="spacingAndGlyphs">Section B</text>
<text x="83.3" y="2180.2" xml:space="preserve" font-family="Liberation Serif" font-size="35.3" font-weight="bold" font-style="italic" fill="#333333" textLength="175.23" lengthAdjust="spacingAndGlyphs">Extension</text>
<text x="303.26" y="289.5" xml:space="preserve" font-family="Liberation Serif" font-size="34.5" font-weight="normal" font-style="italic" fill="#333333" textLength="852.62" lengthAdjust="spacingAndGlyphs">Using the information in each table, draw the line graph.</text>
<text x="303.26" y="1228.7" xml:space="preserve" font-family="Liberation Serif" font-size="34.5" font-weight="normal" font-style="italic" fill="#333333" textLength="941.63" lengthAdjust="spacingAndGlyphs">Using the information from the line graph, complete the tables.</text>
<text x="320.68" y="2182.6" xml:space="preserve" font-family="Liberation Serif" font-size="34.5" font-weight="normal" font-style="italic" fill="#333333" textLength="642.58" lengthAdjust="spacingAndGlyphs">Give a title for each line graph in section B.</text>
<text x="193.1" y="366.5" xml:space="preserve" font-family="Liberation Sans" font-size="27" font-weight="normal" font-style="normal" fill="#333333" stroke="#333333" stroke-width="0.95" stroke-linejoin="round" textLength="52.34" lengthAdjust="spacingAndGlyphs">Age</text>
<text x="172.7" y="399.3" xml:space="preserve" font-family="Liberation Sans" font-size="27" font-weight="normal" font-style="normal" fill="#333333" stroke="#333333" stroke-width="0.95" stroke-linejoin="round" textLength="92.72" lengthAdjust="spacingAndGlyphs">(years)</text>
<text x="142.9" y="458.6" xml:space="preserve" font-family="Liberation Sans" font-size="27" font-weight="normal" font-style="normal" fill="#333333" stroke="#333333" stroke-width="0.95" stroke-linejoin="round" textLength="152.01" lengthAdjust="spacingAndGlyphs">Weight (kg)</text>
<text x="358.15" y="382.4" xml:space="preserve" font-family="Liberation Sans" font-size="27" font-weight="normal" font-style="normal" fill="#333333" stroke="#333333" stroke-width="0.95" stroke-linejoin="round" textLength="13.9" lengthAdjust="spacingAndGlyphs">1</text>
<text x="457.66" y="382.4" xml:space="preserve" font-family="Liberation Sans" font-size="27" font-weight="normal" font-style="normal" fill="#333333" stroke="#333333" stroke-width="0.95" stroke-linejoin="round" textLength="17.11" lengthAdjust="spacingAndGlyphs">2</text>
<text x="557.78" y="382.4" xml:space="preserve" font-family="Liberation Sans" font-size="27" font-weight="normal" font-style="normal" fill="#333333" stroke="#333333" stroke-width="0.95" stroke-linejoin="round" textLength="16.77" lengthAdjust="spacingAndGlyphs">3</text>
<text x="658.9" y="382.4" xml:space="preserve" font-family="Liberation Sans" font-size="27" font-weight="normal" font-style="normal" fill="#333333" stroke="#333333" stroke-width="0.95" stroke-linejoin="round" textLength="16.53" lengthAdjust="spacingAndGlyphs">4</text>
<text x="758.46" y="382.4" xml:space="preserve" font-family="Liberation Sans" font-size="27" font-weight="normal" font-style="normal" fill="#333333" stroke="#333333" stroke-width="0.95" stroke-linejoin="round" textLength="15.68" lengthAdjust="spacingAndGlyphs">5</text>
<text x="358" y="458.4" xml:space="preserve" font-family="Liberation Sans" font-size="27" font-weight="normal" font-style="normal" fill="#333333" stroke="#333333" stroke-width="0.95" stroke-linejoin="round" textLength="16.53" lengthAdjust="spacingAndGlyphs">9</text>
<text x="447.97" y="458.4" xml:space="preserve" font-family="Liberation Sans" font-size="27" font-weight="normal" font-style="normal" fill="#333333" stroke="#333333" stroke-width="0.95" stroke-linejoin="round" textLength="32.63" lengthAdjust="spacingAndGlyphs">11</text>
<text x="548.64" y="458.4" xml:space="preserve" font-family="Liberation Sans" font-size="27" font-weight="normal" font-style="normal" fill="#333333" stroke="#333333" stroke-width="0.95" stroke-linejoin="round" textLength="33.94" lengthAdjust="spacingAndGlyphs">13</text>
<text x="649.24" y="458.4" xml:space="preserve" font-family="Liberation Sans" font-size="27" font-weight="normal" font-style="normal" fill="#333333" stroke="#333333" stroke-width="0.95" stroke-linejoin="round" textLength="33.94" lengthAdjust="spacingAndGlyphs">16</text>
<text x="749.4" y="458.4" xml:space="preserve" font-family="Liberation Sans" font-size="27" font-weight="normal" font-style="normal" fill="#333333" stroke="#333333" stroke-width="0.95" stroke-linejoin="round" textLength="33.05" lengthAdjust="spacingAndGlyphs">19</text>
<text x="911.13" y="382.5" xml:space="preserve" font-family="Liberation Sans" font-size="27" font-weight="normal" font-style="normal" fill="#333333" stroke="#333333" stroke-width="0.95" stroke-linejoin="round" textLength="51.98" lengthAdjust="spacingAndGlyphs">Day</text>
<text x="906.2" y="441.3" xml:space="preserve" font-family="Liberation Sans" font-size="27" font-weight="normal" font-style="normal" fill="#333333" stroke="#333333" stroke-width="0.95" stroke-linejoin="round" textLength="63.98" lengthAdjust="spacingAndGlyphs">Time</text>
<text x="897.31" y="473.7" xml:space="preserve" font-family="Liberation Sans" font-size="27" font-weight="normal" font-style="normal" fill="#333333" stroke="#333333" stroke-width="0.95" stroke-linejoin="round" textLength="81.68" lengthAdjust="spacingAndGlyphs">(mins)</text>
<text x="1028.87" y="382.7" xml:space="preserve" font-family="Liberation Sans" font-size="27" font-weight="normal" font-style="normal" fill="#333333" stroke="#333333" stroke-width="0.95" stroke-linejoin="round" textLength="56.07" lengthAdjust="spacingAndGlyphs">Mon</text>
<text x="1138.3" y="382.7" xml:space="preserve" font-family="Liberation Sans" font-size="27" font-weight="normal" font-style="normal" fill="#333333" stroke="#333333" stroke-width="0.95" stroke-linejoin="round" textLength="62.83" lengthAdjust="spacingAndGlyphs">Tues</text>
<text x="1253.3" y="382.7" xml:space="preserve" font-family="Liberation Sans" font-size="27" font-weight="normal" font-style="normal" fill="#333333" stroke="#333333" stroke-width="0.95" stroke-linejoin="round" textLength="58.19" lengthAdjust="spacingAndGlyphs">Wed</text>
<text x="1357.4" y="382.7" xml:space="preserve" font-family="Liberation Sans" font-size="27" font-weight="normal" font-style="normal" fill="#333333" stroke="#333333" stroke-width="0.95" stroke-linejoin="round" textLength="75.03" lengthAdjust="spacingAndGlyphs">Thurs</text>
<text x="1488.56" y="382.7" xml:space="preserve" font-family="Liberation Sans" font-size="27" font-weight="normal" font-style="normal" fill="#333333" stroke="#333333" stroke-width="0.95" stroke-linejoin="round" textLength="36.88" lengthAdjust="spacingAndGlyphs">Fri</text>
<text x="1039.92" y="457.2" xml:space="preserve" font-family="Liberation Sans" font-size="27" font-weight="normal" font-style="normal" fill="#333333" stroke="#333333" stroke-width="0.95" stroke-linejoin="round" textLength="32.43" lengthAdjust="spacingAndGlyphs">30</text>
<text x="1152.51" y="457.2" xml:space="preserve" font-family="Liberation Sans" font-size="27" font-weight="normal" font-style="normal" fill="#333333" stroke="#333333" stroke-width="0.95" stroke-linejoin="round" textLength="32.64" lengthAdjust="spacingAndGlyphs">35</text>
<text x="1264.31" y="457.2" xml:space="preserve" font-family="Liberation Sans" font-size="27" font-weight="normal" font-style="normal" fill="#333333" stroke="#333333" stroke-width="0.95" stroke-linejoin="round" textLength="32.84" lengthAdjust="spacingAndGlyphs">20</text>
<text x="1377.35" y="457.2" xml:space="preserve" font-family="Liberation Sans" font-size="27" font-weight="normal" font-style="normal" fill="#333333" stroke="#333333" stroke-width="0.95" stroke-linejoin="round" textLength="33.8" lengthAdjust="spacingAndGlyphs">15</text>
<text x="1498.68" y="457.2" xml:space="preserve" font-family="Liberation Sans" font-size="27" font-weight="normal" font-style="normal" fill="#333333" stroke="#333333" stroke-width="0.95" stroke-linejoin="round" textLength="16.88" lengthAdjust="spacingAndGlyphs">2</text>
<text x="116.1" y="1307.2" xml:space="preserve" font-family="Liberation Sans" font-size="29" font-weight="normal" font-style="normal" fill="#333333" stroke="#333333" stroke-width="0.95" stroke-linejoin="round" textLength="167.67" lengthAdjust="spacingAndGlyphs">Time Taken</text>
<text x="146.56" y="1343.4" xml:space="preserve" font-family="Liberation Sans" font-size="29" font-weight="normal" font-style="normal" fill="#333333" stroke="#333333" stroke-width="0.95" stroke-linejoin="round" textLength="105.13" lengthAdjust="spacingAndGlyphs">(hours)</text>
<text x="134.9" y="1388.5" xml:space="preserve" font-family="Liberation Sans" font-size="29" font-weight="normal" font-style="normal" fill="#333333" stroke="#333333" stroke-width="0.95" stroke-linejoin="round" textLength="129.55" lengthAdjust="spacingAndGlyphs">Distance</text>
<text x="150.07" y="1425.3" xml:space="preserve" font-family="Liberation Sans" font-size="29" font-weight="normal" font-style="normal" fill="#333333" stroke="#333333" stroke-width="0.95" stroke-linejoin="round" textLength="98.26" lengthAdjust="spacingAndGlyphs">(miles)</text>
<text x="263.4" y="539.5" xml:space="preserve" font-family="Liberation Sans" font-size="27" font-weight="normal" font-style="normal" fill="#333333" stroke="#333333" stroke-width="0.95" stroke-linejoin="round" textLength="420" lengthAdjust="spacingAndGlyphs">Jon's weight from birth to age 6</text>
<text x="1123.97" y="530.9" xml:space="preserve" font-family="Liberation Sans" font-size="27" font-weight="normal" font-style="normal" fill="#333333" stroke="#333333" stroke-width="0.95" stroke-linejoin="round" textLength="301.73" lengthAdjust="spacingAndGlyphs">Hours Mia spent doing</text>
<text x="1140.79" y="563.4" xml:space="preserve" font-family="Liberation Sans" font-size="27" font-weight="normal" font-style="normal" fill="#333333" stroke="#333333" stroke-width="0.95" stroke-linejoin="round" textLength="269.21" lengthAdjust="spacingAndGlyphs">homework each day</text>
<text x="132.84" y="1072.2" xml:space="preserve" font-family="Liberation Sans" font-size="33" font-weight="bold" font-style="normal" fill="#333333" textLength="19.39" lengthAdjust="spacingAndGlyphs">0</text>
<text x="133.22" y="955.5" xml:space="preserve" font-family="Liberation Sans" font-size="33" font-weight="bold" font-style="normal" fill="#333333" textLength="17.93" lengthAdjust="spacingAndGlyphs">5</text>
<text x="115.27" y="841.2" xml:space="preserve" font-family="Liberation Sans" font-size="33" font-weight="bold" font-style="normal" fill="#333333" textLength="37.28" lengthAdjust="spacingAndGlyphs">10</text>
<text x="115.33" y="727" xml:space="preserve" font-family="Liberation Sans" font-size="33" font-weight="bold" font-style="normal" fill="#333333" textLength="36.18" lengthAdjust="spacingAndGlyphs">15</text>
<text x="116.31" y="611.5" xml:space="preserve" font-family="Liberation Sans" font-size="33" font-weight="bold" font-style="normal" fill="#333333" textLength="36.18" lengthAdjust="spacingAndGlyphs">20</text>
<text x="253.38" y="1109.5" xml:space="preserve" font-family="Liberation Sans" font-size="33" font-weight="bold" font-style="normal" fill="#333333" textLength="14" lengthAdjust="spacingAndGlyphs">1</text>
<text x="346.57" y="1109.5" xml:space="preserve" font-family="Liberation Sans" font-size="33" font-weight="bold" font-style="normal" fill="#333333" textLength="20.65" lengthAdjust="spacingAndGlyphs">2</text>
<text x="440.77" y="1109.5" xml:space="preserve" font-family="Liberation Sans" font-size="33" font-weight="bold" font-style="normal" fill="#333333" textLength="20.65" lengthAdjust="spacingAndGlyphs">3</text>
<text x="533.2" y="1109.5" xml:space="preserve" font-family="Liberation Sans" font-size="33" font-weight="bold" font-style="normal" fill="#333333" textLength="18.36" lengthAdjust="spacingAndGlyphs">4</text>
<text x="624.24" y="1109.5" xml:space="preserve" font-family="Liberation Sans" font-size="33" font-weight="bold" font-style="normal" fill="#333333" textLength="19.44" lengthAdjust="spacingAndGlyphs">5</text>
<text x="719.17" y="1109.5" xml:space="preserve" font-family="Liberation Sans" font-size="33" font-weight="bold" font-style="normal" fill="#333333" textLength="20.77" lengthAdjust="spacingAndGlyphs">6</text>
<text x="422.2" y="1143.7" xml:space="preserve" font-family="Liberation Sans" font-size="27" font-weight="normal" font-style="normal" fill="#333333" stroke="#333333" stroke-width="0.95" stroke-linejoin="round" textLength="152.51" lengthAdjust="spacingAndGlyphs">Age (years)</text>
<text transform="translate(98.2,846.7) rotate(-90)" x="-0" y="0" xml:space="preserve" font-family="Liberation Sans" font-size="27" font-weight="normal" font-style="normal" fill="#333333" stroke="#333333" stroke-width="0.95" stroke-linejoin="round" textLength="157.64" lengthAdjust="spacingAndGlyphs">Weight  (kg)</text>
<text x="950.96" y="1073.8" xml:space="preserve" font-family="Liberation Sans" font-size="33" font-weight="bold" font-style="normal" fill="#333333" textLength="19.05" lengthAdjust="spacingAndGlyphs">0</text>
<text x="934.13" y="957.9" xml:space="preserve" font-family="Liberation Sans" font-size="33" font-weight="bold" font-style="normal" fill="#333333" textLength="37.94" lengthAdjust="spacingAndGlyphs">10</text>
<text x="933.96" y="842.6" xml:space="preserve" font-family="Liberation Sans" font-size="33" font-weight="bold" font-style="normal" fill="#333333" textLength="38.12" lengthAdjust="spacingAndGlyphs">20</text>
<text x="933.96" y="727.9" xml:space="preserve" font-family="Liberation Sans" font-size="33" font-weight="bold" font-style="normal" fill="#333333" textLength="38.12" lengthAdjust="spacingAndGlyphs">30</text>
<text x="934" y="612.3" xml:space="preserve" font-family="Liberation Sans" font-size="33" font-weight="bold" font-style="normal" fill="#333333" textLength="37.51" lengthAdjust="spacingAndGlyphs">40</text>
<text x="1057.11" y="1109.8" xml:space="preserve" font-family="Liberation Sans" font-size="33" font-weight="bold" font-style="normal" fill="#333333" textLength="64.21" lengthAdjust="spacingAndGlyphs">Mon</text>
<text x="1150.3" y="1109.8" xml:space="preserve" font-family="Liberation Sans" font-size="33" font-weight="bold" font-style="normal" fill="#333333" textLength="71.72" lengthAdjust="spacingAndGlyphs">Tues</text>
<text x="1249.3" y="1109.8" xml:space="preserve" font-family="Liberation Sans" font-size="33" font-weight="bold" font-style="normal" fill="#333333" textLength="65.45" lengthAdjust="spacingAndGlyphs">Wed</text>
<text x="1335" y="1109.8" xml:space="preserve" font-family="Liberation Sans" font-size="33" font-weight="bold" font-style="normal" fill="#333333" textLength="85.76" lengthAdjust="spacingAndGlyphs">Thurs</text>
<text x="1441.21" y="1109.8" xml:space="preserve" font-family="Liberation Sans" font-size="33" font-weight="bold" font-style="normal" fill="#333333" textLength="41.95" lengthAdjust="spacingAndGlyphs">Fri</text>
<text x="1260.78" y="1149.8" xml:space="preserve" font-family="Liberation Sans" font-size="27" font-weight="normal" font-style="normal" fill="#333333" stroke="#333333" stroke-width="0.95" stroke-linejoin="round" textLength="53.23" lengthAdjust="spacingAndGlyphs">Day</text>
<text transform="translate(915.7,855.3) rotate(-90)" x="-0" y="0" xml:space="preserve" font-family="Liberation Sans" font-size="27" font-weight="normal" font-style="normal" fill="#333333" stroke="#333333" stroke-width="0.95" stroke-linejoin="round" textLength="175.99" lengthAdjust="spacingAndGlyphs">Time  (hours)</text>
<text x="122.73" y="2017.9" xml:space="preserve" font-family="Liberation Sans" font-size="33" font-weight="bold" font-style="normal" fill="#333333" textLength="19.62" lengthAdjust="spacingAndGlyphs">0</text>
<text x="106.4" y="1902.6" xml:space="preserve" font-family="Liberation Sans" font-size="33" font-weight="bold" font-style="normal" fill="#333333" textLength="38.61" lengthAdjust="spacingAndGlyphs">10</text>
<text x="105.76" y="1787.3" xml:space="preserve" font-family="Liberation Sans" font-size="33" font-weight="bold" font-style="normal" fill="#333333" textLength="38.01" lengthAdjust="spacingAndGlyphs">20</text>
<text x="105.79" y="1673.3" xml:space="preserve" font-family="Liberation Sans" font-size="33" font-weight="bold" font-style="normal" fill="#333333" textLength="37.26" lengthAdjust="spacingAndGlyphs">30</text>
<text x="105.8" y="1557.6" xml:space="preserve" font-family="Liberation Sans" font-size="33" font-weight="bold" font-style="normal" fill="#333333" textLength="37.24" lengthAdjust="spacingAndGlyphs">40</text>
<text x="281.6" y="2061.1" xml:space="preserve" font-family="Liberation Sans" font-size="33" font-weight="bold" font-style="normal" fill="#333333" textLength="13.77" lengthAdjust="spacingAndGlyphs">1</text>
<text x="406.69" y="2061" xml:space="preserve" font-family="Liberation Sans" font-size="33" font-weight="bold" font-style="normal" fill="#333333" textLength="18.59" lengthAdjust="spacingAndGlyphs">2</text>
<text x="535.56" y="2061.1" xml:space="preserve" font-family="Liberation Sans" font-size="33" font-weight="bold" font-style="normal" fill="#333333" textLength="19.16" lengthAdjust="spacingAndGlyphs">3</text>
<text x="660.8" y="2061.4" xml:space="preserve" font-family="Liberation Sans" font-size="33" font-weight="bold" font-style="normal" fill="#333333" textLength="18.46" lengthAdjust="spacingAndGlyphs">4</text>
<text x="786.53" y="2061.1" xml:space="preserve" font-family="Liberation Sans" font-size="33" font-weight="bold" font-style="normal" fill="#333333" textLength="17.82" lengthAdjust="spacingAndGlyphs">5</text>
<text x="382.7" y="2095.5" xml:space="preserve" font-family="Liberation Sans" font-size="27" font-weight="normal" font-style="normal" fill="#333333" stroke="#333333" stroke-width="0.95" stroke-linejoin="round" textLength="254.91" lengthAdjust="spacingAndGlyphs">Time Taken (hours)</text>
<text transform="translate(95.6,1805.8) rotate(-90)" x="-2.22" y="0" xml:space="preserve" font-family="Liberation Sans" font-size="27" font-weight="normal" font-style="normal" fill="#333333" stroke="#333333" stroke-width="0.95" stroke-linejoin="round" textLength="184.61" lengthAdjust="spacingAndGlyphs">Distance (km)</text>
<text x="895.11" y="2023.5" xml:space="preserve" font-family="Liberation Sans" font-size="33" font-weight="bold" font-style="normal" fill="#333333" textLength="18.24" lengthAdjust="spacingAndGlyphs">0</text>
<text x="894.99" y="1905" xml:space="preserve" font-family="Liberation Sans" font-size="33" font-weight="bold" font-style="normal" fill="#333333" textLength="18.47" lengthAdjust="spacingAndGlyphs">2</text>
<text x="894.3" y="1791.7" xml:space="preserve" font-family="Liberation Sans" font-size="33" font-weight="bold" font-style="normal" fill="#333333" textLength="18.87" lengthAdjust="spacingAndGlyphs">4</text>
<text x="897.06" y="1677.4" xml:space="preserve" font-family="Liberation Sans" font-size="33" font-weight="bold" font-style="normal" fill="#333333" textLength="19.16" lengthAdjust="spacingAndGlyphs">6</text>
<text x="898.88" y="1562.5" xml:space="preserve" font-family="Liberation Sans" font-size="33" font-weight="bold" font-style="normal" fill="#333333" textLength="18.7" lengthAdjust="spacingAndGlyphs">8</text>
<text x="1003.69" y="2052.6" xml:space="preserve" font-family="Liberation Sans" font-size="24.5" font-weight="bold" font-style="normal" fill="#333333" textLength="97.69" lengthAdjust="spacingAndGlyphs">1:00 pm</text>
<text x="1136.55" y="2052.6" xml:space="preserve" font-family="Liberation Sans" font-size="24.5" font-weight="bold" font-style="normal" fill="#333333" textLength="97.43" lengthAdjust="spacingAndGlyphs">2:00 pm</text>
<text x="1255.66" y="2052.6" xml:space="preserve" font-family="Liberation Sans" font-size="24.5" font-weight="bold" font-style="normal" fill="#333333" textLength="96.61" lengthAdjust="spacingAndGlyphs">3:00 pm</text>
<text x="1375" y="2052.6" xml:space="preserve" font-family="Liberation Sans" font-size="24.5" font-weight="bold" font-style="normal" fill="#333333" textLength="96.66" lengthAdjust="spacingAndGlyphs">4:00 pm</text>
<text x="1486.64" y="2052.6" xml:space="preserve" font-family="Liberation Sans" font-size="24.5" font-weight="bold" font-style="normal" fill="#333333" textLength="97.84" lengthAdjust="spacingAndGlyphs">5:00 pm</text>
<text x="1256.7" y="2094.7" xml:space="preserve" font-family="Liberation Sans" font-size="27" font-weight="normal" font-style="normal" fill="#333333" stroke="#333333" stroke-width="0.95" stroke-linejoin="round" textLength="63.07" lengthAdjust="spacingAndGlyphs">Time</text>
<text transform="translate(882.7,1831.8) rotate(-90)" x="-0" y="0" xml:space="preserve" font-family="Liberation Sans" font-size="27" font-weight="normal" font-style="normal" fill="#333333" stroke="#333333" stroke-width="0.95" stroke-linejoin="round" textLength="211.74" lengthAdjust="spacingAndGlyphs">Temperature  °C</text>
<text x="64" y="2282" xml:space="preserve" font-family="Liberation Sans" font-size="27.8" font-weight="normal" font-style="normal" fill="#333333" textLength="318.9" lengthAdjust="spacingAndGlyphs">©Visual Maths Resources</text>
<text x="64.5" y="2311" xml:space="preserve" font-family="Liberation Sans" font-size="27.8" font-weight="normal" font-style="normal" fill="#2f5b9a" textLength="300.68" lengthAdjust="spacingAndGlyphs">www.cazoommaths.com</text>
<text x="514.6" y="2284" xml:space="preserve" font-family="Liberation Sans" font-size="27.8" font-weight="normal" font-style="normal" fill="#333333" textLength="646.02" lengthAdjust="spacingAndGlyphs">Statistics - Pie Charts, Bar Charts and Line Graphs -</text>
<text x="738.18" y="2317.5" xml:space="preserve" font-family="Liberation Sans" font-size="27.8" font-weight="normal" font-style="normal" fill="#333333" textLength="197.95" lengthAdjust="spacingAndGlyphs">Line Graphs (A)</text>
<text x="1279.2" y="2317" xml:space="preserve" font-family="Liberation Sans" font-size="27.8" font-weight="normal" font-style="normal" fill="#333333" textLength="288.08" lengthAdjust="spacingAndGlyphs">GCSE Tier: Foundation</text>
<g id="boy"><ellipse cx="1475" cy="272" rx="37" ry="10" fill="#d9d9db"/>
<path d="M1455.5 213 L1507 212 C1509 225 1510 245 1511 263 L1500 265 C1496 255 1490 244 1486 236 C1484 246 1482 256 1481 264 L1466 266 C1463 250 1459 232 1455.5 213 Z" fill="#303032" stroke="#1a1a1a" stroke-width="1.5" stroke-linejoin="round"/>
<path d="M1486 236 L1484 220 M1503 216 C1505 222 1506 225 1505 228" stroke="#1c1c1c" stroke-width="1" fill="none"/>
<path d="M1461 271 C1462 264 1472 261 1482 263 C1486 266 1485 275 1477 279.5 C1469 283 1460 279 1461 271 Z" fill="#a85b28" stroke="#1c1c1c" stroke-width="1.6"/>
<path d="M1499 265 C1506 261 1518 263 1526 268 C1530 272 1527 277 1520 277 C1510 277 1500 273 1499 265 Z" fill="#a85b28" stroke="#1c1c1c" stroke-width="1.6"/>
<path d="M1466 270 L1474 267 M1468 273.5 L1477 270 M1507 266 L1509 271 M1512 266 L1513.5 271 M1517 267 L1518 272" stroke="#3a2010" stroke-width="1" fill="none"/>
<path d="M1463.7 154.2 L1494.2 152.9 L1504.3 160.3 L1511.1 169.8 L1528 163.7 L1534 172 L1514.5 186.7 L1507.7 188.8 C1505 192 1504 194 1504.3 195.5 L1507.7 205 L1506.4 213.2 L1454.9 214.5 C1452 210 1452 200 1452.9 194.2 C1449 190 1448 182 1448.8 177.3 C1450 170 1451 166 1453.5 163.7 C1456 159 1460 156 1463.7 154.2 Z" fill="#363b7c" stroke="#1a1a1a" stroke-width="1.5" stroke-linejoin="round"/>
<path d="M1465.7 178 L1466 186 L1490 186 M1453 195 C1466 200 1482 199 1494 195.5 M1496 172 L1499 176" stroke="#1d2150" stroke-width="1.3" fill="none"/>
<path d="M1463.7 155 L1484 172.8 L1494.5 153.5" stroke="#1d2150" stroke-width="2.4" fill="none" stroke-linejoin="round"/>
<path d="M1465 154.5 L1470.5 148.1 L1490.1 148.8 L1493 154 L1484 171.5 Z" fill="#ffffff" stroke="#1a1a1a" stroke-width="1.2" stroke-linejoin="round"/>
<path d="M1465 155.5 L1475.2 163 L1480.6 160 L1487.4 159.7 L1490.1 150" stroke="#1a1a1a" stroke-width="1" fill="none"/>
<circle cx="1480.8" cy="160.5" r="0.9" fill="#1a1a1a"/><circle cx="1481" cy="167.5" r="1" fill="#1a1a1a"/>
<path d="M1471.5 146 L1486 146 L1487.5 149.5 L1480.6 154 L1473 149.5 Z" fill="#f8eba0" stroke="#1a1a1a" stroke-width="1"/>
<path d="M1494.5 180.6 C1494.5 177 1495 175 1496.5 175 C1498 175.5 1498.3 179 1498.5 181.5 L1506.5 181.5 C1508.5 183 1508.5 192.5 1506.5 194.2 L1493.5 194.2 C1492 192 1492 184 1494.5 180.6 Z" fill="#f8eba0" stroke="#1a1a1a" stroke-width="1.3" stroke-linejoin="round"/>
<path d="M1523 152 C1525 150.5 1528 153 1531 156 C1534 153 1539 152.5 1543 154.5 C1547 157 1547.5 164 1544.5 167.5 C1541 170 1537 170 1534 168 C1532 166 1531 163 1530 160 C1527 158 1523.5 155 1523 152 Z" fill="#f8eba0" stroke="#1a1a1a" stroke-width="1.3" stroke-linejoin="round"/>
<path d="M1533 159.5 L1536 166" stroke="#1a1a1a" stroke-width="1" fill="none"/>
<path d="M1453.9 124.6 C1451 124 1448.7 125 1448.7 127 C1449 130 1450 133 1456 135.1 Z" fill="#f8eba0" stroke="#1a1a1a" stroke-width="1.2"/>
<path d="M1500 123.6 C1502 122 1503.6 122 1504 124 C1504.5 127 1503 131 1498.9 133.5 Z" fill="#f8eba0" stroke="#1a1a1a" stroke-width="1.2"/>
<path d="M1459.1 103.7 L1473.8 103.7 L1483.2 105.8 L1499.4 102.6 C1501 110 1501 118 1500.5 126.2 C1499.5 132 1498 136 1496.8 138.2 C1494 142 1490 145 1486.3 145.6 L1475.9 146.6 C1470 145 1466 144 1463.3 141.9 C1459 139 1457 136 1456 134 C1455 128 1454.5 122 1454.9 118.3 Z" fill="#f8eba0" stroke="#1a1a1a" stroke-width="1.4" stroke-linejoin="round"/>
<path d="M1453.9 125.1 L1448.1 112.1 L1441.9 100 L1437.7 96.4 L1444.5 95.3 L1444.5 90.6 L1449.7 90.1 L1446 78 L1452.8 79.6 L1456 81.7 L1461.2 70.2 L1464.9 76.5 L1470.6 77.5 L1476.9 72.3 L1483.2 70.2 L1484.2 79.1 L1489 75.4 L1498.9 73.3 L1498.4 80.1 L1508.3 78.6 L1505.7 85.9 L1513.6 86.7 L1506.8 90.1 L1504.7 102.6 L1501.5 118.3 L1499.4 102.6 L1483.2 105.8 L1473.8 103.7 L1459.1 103.7 L1454.9 118.3 Z" fill="#a0552b" stroke="#1a1a1a" stroke-width="1.4" stroke-linejoin="round"/>
<path d="M1452 91 C1455 88.5 1459 89 1462 92 M1468 93 L1473 86 L1477 91 M1478 99 L1484 91 L1489 97 M1489 84 C1492 82 1496 82 1498 84 M1453.5 94 L1453 100" stroke="#4a2810" stroke-width="1.1" fill="none"/>
<path d="M1470 82 C1474 80 1478 81 1480 84 M1492 92 C1495 90 1499 90 1502 92" stroke="#5a3012" stroke-width="1.1" fill="none" opacity="0.8"/>
<path d="M1463.3 114.2 C1465 111 1470 110.5 1474.3 113.1 M1486.3 114.2 C1488 111 1492 110.5 1494.7 112.6" stroke="#8a4a22" stroke-width="2.4" fill="none" stroke-linecap="round"/>
<path d="M1462 122.5 C1465 120 1471 119 1475 117.5 M1485 121.5 C1489 119 1494 118.5 1496 119.5" stroke="#1a1a1a" stroke-width="1" fill="none"/>
<ellipse cx="1469.6" cy="122.8" rx="3.9" ry="3.3" fill="#3b8fd0" stroke="#1a1a1a" stroke-width="0.9"/>
<ellipse cx="1490.5" cy="121.3" rx="3.9" ry="3.1" fill="#3b8fd0" stroke="#1a1a1a" stroke-width="0.9"/>
<circle cx="1470" cy="122.5" r="1.3" fill="#0d2a4a"/><circle cx="1490.8" cy="121" r="1.3" fill="#0d2a4a"/>
<circle cx="1469" cy="121.6" r="0.6" fill="#ffffff"/><circle cx="1489.8" cy="120.2" r="0.6" fill="#ffffff"/>
<path d="M1474.8 130.5 C1474.5 124 1479 123 1481.5 123.2 C1486 123.5 1488 127 1487.8 130 C1487 134 1483 135 1480 134.5 C1477 134 1475.5 132.5 1474.8 130.5" fill="#f8eba0" stroke="#1a1a1a" stroke-width="1.2"/>
<path d="M1466.5 136.8 L1470.5 136.6 M1472.2 138 L1483.7 138.6 M1472.2 138 C1473 140.5 1475 141.5 1478 141.2 L1479 139" stroke="#1a1a1a" stroke-width="1.3" fill="#2a2a2a" stroke-linecap="round"/>
</g>
</svg>
</body></html>
